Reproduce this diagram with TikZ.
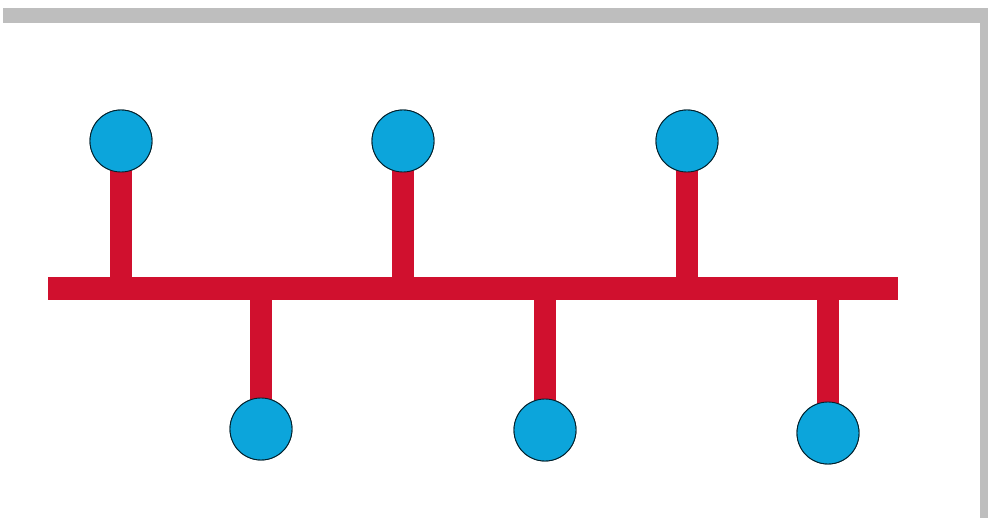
\documentclass[tikz,border=0pt]{standalone}
\definecolor{busred}{RGB}{208,16,46}
\definecolor{nodeblue}{RGB}{12,165,219}
\definecolor{frame}{RGB}{190,190,190}
\tikzset{
  hub/.style={circle, fill=nodeblue, draw=black!80!nodeblue, line width=0.9pt, minimum size=62pt, inner sep=0pt},
  wire/.style={draw=busred, line width=22pt},
}
\begin{document}
\begin{tikzpicture}[x=1pt,y=-1pt]
\useasboundingbox (0,0) rectangle (988,518);
\fill[white] (0,0) rectangle (988,518);
% grey frame
\fill[frame] (3,8) rectangle (988,23);
\fill[frame] (980,23) rectangle (988,518);
% bus
\coordinate (bl) at (48,289);
\coordinate (br) at (898,289);
\foreach \n/\x in {t1/121,t2/403,t3/687,b1/261,b2/545,b3/828} {
  \coordinate (j\n) at (\x,289);
}
% nodes
\node[hub] (t1) at (121,141) {};
\node[hub] (t2) at (403,141) {};
\node[hub] (t3) at (687,141) {};
\node[hub] (b1) at (261,429) {};
\node[hub] (b2) at (545,430) {};
\node[hub] (b3) at (828,433) {};
% stems (behind circles)
\begin{scope}[on background layer/.try]
\end{scope}
\foreach \n in {t1,t2,t3,b1,b2,b3} {
  \draw[wire] (j\n) -- (\n.center);
}
\draw[wire, line width=23pt] (bl) -- (br);
% redraw circles on top
\node[hub] at (t1) {};
\node[hub] at (t2) {};
\node[hub] at (t3) {};
\node[hub] at (b1) {};
\node[hub] at (b2) {};
\node[hub] at (b3) {};
\end{tikzpicture}
\end{document}
